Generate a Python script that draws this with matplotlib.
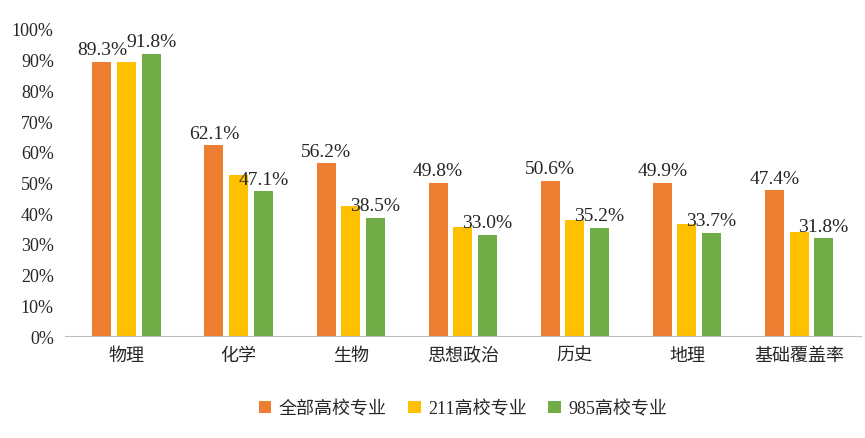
import matplotlib
matplotlib.use("Agg")
import matplotlib.pyplot as plt
import numpy as np

categories = ["物理", "化学", "生物", "思想政治", "历史", "地理", "基础覆盖率"]
all_vals = [89.3, 62.1, 56.2, 49.8, 50.6, 49.9, 47.4]
v211 = [89.3, 52.5, 42.5, 35.5, 37.8, 36.5, 34.0]
v985 = [91.8, 47.1, 38.5, 33.0, 35.2, 33.7, 31.8]
series_names = ["全部高校专业", "211高校专业", "985高校专业"]
colors = ["#ED7D31", "#FFC000", "#70AD47"]

fam = ["Liberation Serif", "Noto Sans CJK SC"]
plt.rcParams['font.family'] = fam

fig = plt.figure(figsize=(8.65, 4.39), dpi=100)
ax = fig.add_axes([0.075, 0.232, 0.92, 0.70])
x = np.arange(len(categories))
step = 0.22
w = 0.17
for i, (vals, c, n) in enumerate(zip([all_vals, v211, v985], colors, series_names)):
    ax.bar(x + (i - 1) * step, vals, w, color=c, label=n)
    if i != 1:
        for xb, v in zip(x + (i - 1) * step, vals):
            ax.text(xb, v + 1.2, f"{v:.1f}%", ha="center", va="bottom", fontsize=14, color="#262626")
ax.set_ylim(0, 100)
ax.set_xlim(-0.55, len(categories) - 0.45)
ax.set_yticks(range(0, 101, 10))
ax.set_yticklabels([f"{t}%" for t in range(0, 101, 10)], fontsize=13, color="#262626")
ax.set_xticks(x)
ax.set_xticklabels(categories, fontsize=13, color="#262626")
ax.tick_params(length=0, pad=8)
for s in ["top", "right", "left"]:
    ax.spines[s].set_visible(False)
ax.spines["bottom"].set_color("#BFBFBF")
ax.legend(loc="upper center", bbox_to_anchor=(0.5, -0.155), ncol=3, frameon=False,
          fontsize=13, handlelength=0.7, handleheight=0.7, columnspacing=1.2, handletextpad=0.4,
          labelcolor="#262626")
fig.savefig("out.png", dpi=100)
